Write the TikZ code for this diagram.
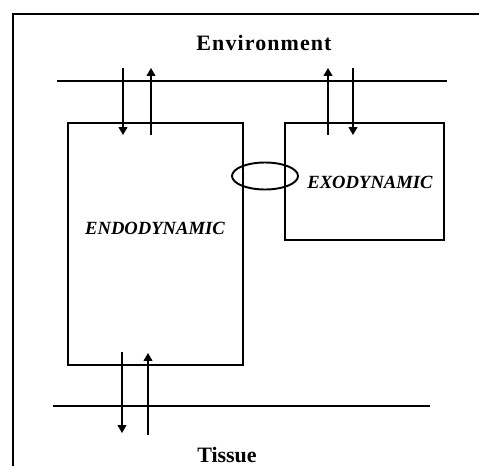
\documentclass[tikz,border=0pt]{standalone}
\usepackage{fontspec}
\setmainfont{Liberation Serif}
\usetikzlibrary{arrows.meta,shapes.geometric}

\begin{document}
\begin{tikzpicture}[
        x=0.02cm, y=-0.02cm,
        >={Triangle[length=4.5pt,width=5pt]},
        box/.style={draw, line width=0.7pt, inner sep=0pt},
        zone/.style={font=\bfseries\fontsize{12.5}{14}\selectfont},
        kind/.style={font=\bfseries\itshape\fontsize{10.6}{12}\selectfont},
        flow/.style={draw, line width=0.8pt, ->},
        wall/.style={draw, line width=0.8pt}
    ]
        \useasboundingbox (0,0) rectangle (479,466);

        % frame
        \draw[line width=1.2pt] (13,466) -- (13,14) -- (479,14);

        % compartments
        \node[box, minimum width=3.5cm, minimum height=4.84cm] (endo) at (155.5,244) {};
        \node[box, minimum width=3.18cm, minimum height=2.34cm] (exo) at (364.5,181.5) {};
        \node[kind] (endoname) at (155,228) {ENDODYNAMIC};
        \node[kind] (exoname) at (370,182) {EXODYNAMIC};
        \node[draw, ellipse, line width=1.1pt, minimum width=1.32cm, minimum height=0.54cm] (link) at (265,176) {};

        % membranes
        \coordinate (envL) at (57,81);
        \coordinate (envR) at (447,81);
        \coordinate (tisL) at (53,406);
        \coordinate (tisR) at (430,406);
        \path[wall] (envL) -- (envR);
        \path[wall] (tisL) -- (tisR);
        \node[zone] (env) at (264,43) {\addfontfeature{LetterSpace=5}Environment};
        \node[zone] (tis) at (227,455) {Tissue};

        % exchanges
        \coordinate (a1) at (123,68);  \coordinate (a2) at (123,135);
        \coordinate (b1) at (151,135); \coordinate (b2) at (151,68);
        \coordinate (c1) at (328,135); \coordinate (c2) at (328,68);
        \coordinate (d1) at (353,68);  \coordinate (d2) at (353,135);
        \coordinate (e1) at (122,352); \coordinate (e2) at (122,433);
        \coordinate (f1) at (148,435); \coordinate (f2) at (148,353);
        \path[flow] (a1) -- (a2);
        \path[flow] (b1) -- (b2);
        \path[flow] (c1) -- (c2);
        \path[flow] (d1) -- (d2);
        \path[flow] (e1) -- (e2);
        \path[flow] (f1) -- (f2);
    \end{tikzpicture}
\end{document}
